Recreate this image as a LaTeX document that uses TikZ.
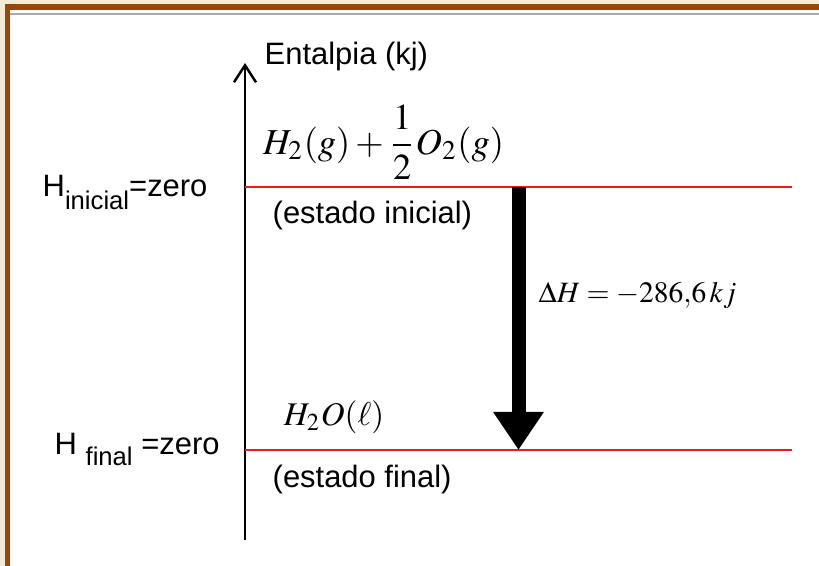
\documentclass[tikz,border=0pt]{standalone}
\usepackage{mathptmx}
\usepackage{fontspec}
\setmainfont{Liberation Sans}
\usetikzlibrary{arrows.meta}
\definecolor{frCream}{RGB}{242,236,214}
\definecolor{frBrown}{RGB}{150, 72, 10}
\definecolor{frGrey} {RGB}{170,170,170}
\definecolor{lvRed}  {RGB}{235, 30, 30}

\begin{document}
\begin{tikzpicture}[
    every node/.style={font=\fontsize{8.8}{10}\selectfont,inner sep=0pt},
    eq/.style={font=\fontsize{#1}{10}\selectfont},
    lvl/.style={draw=lvRed,line width=0.6pt},
    ax/.style={line width=0.7pt,-{Straight Barb[length=0.17cm,width=0.22cm]}},
    dh/.style={line width=0.14cm,-{Triangle[length=0.38cm,width=0.48cm]}}
  ]
  % frame
  \fill[frCream] (0,0) rectangle (8.19,5.66);
  \fill[frBrown] (0.05,0) rectangle (8.19,5.62);
  \fill[white] (0.10,0) rectangle (8.19,5.56);
  \fill[frGrey] (0.10,5.505) rectangle (8.19,5.525);
  \useasboundingbox (0,0) rectangle (8.19,5.66);
  % axis
  \coordinate (axbot) at (2.45,0.26);
  \coordinate (axtop) at (2.45,5.03);
  \draw[ax] (axbot) -- (axtop);
  \node[anchor=base west] (entalpia) at (2.64,5.01) {Entalpia (kj)};
  % levels
  \coordinate (ini0) at (2.45,3.79);
  \coordinate (ini1) at (7.92,3.79);
  \coordinate (fin0) at (2.45,1.16);
  \coordinate (fin1) at (7.92,1.16);
  \draw[lvl] (ini0) -- (ini1);
  \draw[lvl] (fin0) -- (fin1);
  \node[anchor=base west] (hini) at (0.42,3.69)
        {H\raisebox{-0.39em}{\fontsize{7.3}{8}\selectfont inicial}=zero};
  \node[anchor=base west] (hfin) at (0.54,1.11)
        {H \raisebox{-0.33em}{\fontsize{7.3}{8}\selectfont final} =zero};
  \node[eq=10.4] (reag) at (3.835,4.24)
        {$\displaystyle H_2(g)+\frac{1}{2}O_2(g)$};
  \node[anchor=base west] (estini) at (2.72,3.42) {(estado inicial)};
  \node[eq=9.4] (prod) at (3.34,1.49) {$H_2O(\ell)$};
  \node[anchor=base west] (estfin) at (2.72,0.78) {(estado final)};
  % enthalpy change
  \coordinate (dhtop) at (5.185,3.79);
  \coordinate (dhbot) at (5.185,1.16);
  \draw[dh] (dhtop) -- (dhbot);
  \node[eq=8.4,anchor=base west] (dhval) at (5.38,2.63) {$\Delta H = -286{,}6\,kj$};
\end{tikzpicture}
\end{document}
